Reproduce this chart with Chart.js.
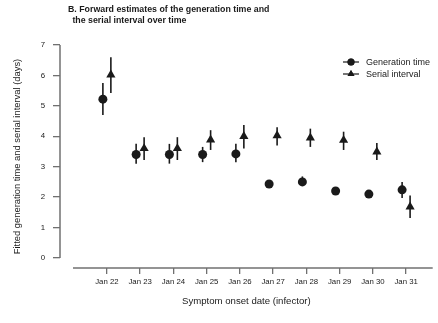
<!DOCTYPE html>
<html>
<head>
<meta charset="utf-8">
<script src="https://cdn.jsdelivr.net/npm/chart.js@4.4.1/dist/chart.umd.min.js"></script>
<style>
  html, body { margin: 0; padding: 0; background: #fff; }
  #wrap { width: 438px; height: 323px; position: relative; }
</style>
</head>
<body>
<div id="wrap"><canvas id="chart" width="438" height="323"></canvas></div>
<script>
// dados
const dates = ['Jan 22', 'Jan 23', 'Jan 24', 'Jan 25', 'Jan 26', 'Jan 27', 'Jan 28', 'Jan 29', 'Jan 30', 'Jan 31'];
const genTime = [5.22, 3.4, 3.4, 3.4, 3.42, 2.43, 2.5, 2.2, 2.1, 2.24];
const genLow  = [4.7, 3.1, 3.1, 3.15, 3.15, 2.35, 2.38, 2.13, 2.03, 1.97];
const genHigh = [5.75, 3.75, 3.75, 3.65, 3.75, 2.52, 2.68, 2.3, 2.18, 2.5];
const serial = [6.02, 3.6, 3.6, 3.88, 4.0, 4.02, 3.95, 3.87, 3.49, 1.68];
const serialLow  = [5.42, 3.22, 3.22, 3.55, 3.6, 3.7, 3.65, 3.55, 3.22, 1.31];
const serialHigh = [6.6, 3.97, 3.97, 4.2, 4.37, 4.3, 4.25, 4.15, 3.78, 2.05];
const yTicks = [0, 1, 2, 3, 4, 5, 6, 7];

const titleLines = ['B. Forward estimates of the generation time and', ' the serial interval over time'];
const ink = '#1a1a1a';
const axisGray = '#707070';
const fontFam = '"Liberation Sans", Arial, sans-serif';

// desenha titulo, eixos, barras de erro e legenda
const extras = {
    id: 'extras',
    beforeDatasetsDraw(chart) {
        const ctx = chart.ctx;
        const x = chart.scales.x;
        const y = chart.scales.y;
        ctx.save();
        ctx.strokeStyle = ink;
        ctx.lineWidth = 1.6;
        chart.data.datasets.forEach((ds, di) => {
            const lo = di === 0 ? genLow : serialLow;
            const hi = di === 0 ? genHigh : serialHigh;
            ds.data.forEach((p, i) => {
                const px = x.getPixelForValue(p.x);
                ctx.beginPath();
                ctx.moveTo(px, y.getPixelForValue(lo[i]));
                ctx.lineTo(px, y.getPixelForValue(hi[i]));
                ctx.stroke();
            });
        });
        ctx.restore();
    },
    afterDraw(chart) {
        const ctx = chart.ctx;
        const x = chart.scales.x;
        const y = chart.scales.y;
        ctx.save();
        // eixos no estilo R
        ctx.strokeStyle = axisGray;
        ctx.lineWidth = 1.5;
        ctx.beginPath();
        ctx.moveTo(y.right, y.getPixelForValue(yTicks[0]));
        ctx.lineTo(y.right, y.getPixelForValue(yTicks[yTicks.length - 1]));
        ctx.stroke();
        ctx.beginPath();
        ctx.moveTo(x.getPixelForValue(-1.02), x.top);
        ctx.lineTo(chart.chartArea.right, x.top);
        ctx.stroke();

        // titulo
        ctx.fillStyle = ink;
        ctx.font = 'bold 8.8px ' + fontFam;
        ctx.textBaseline = 'middle';
        ctx.textAlign = 'left';
        ctx.fillText(titleLines[0], 68, 10);
        ctx.fillText(titleLines[1], 70, 21);

        // legenda
        const items = [
            { label: 'Generation time', style: 'circle', r: 3.5 },
            { label: 'Serial interval', style: 'triangle', r: 4 }
        ];
        ctx.font = '9px ' + fontFam;
        items.forEach((it, i) => {
            const ly = 62 + i * 12;
            ctx.strokeStyle = ink;
            ctx.lineWidth = 1.2;
            ctx.beginPath();
            ctx.moveTo(343, ly);
            ctx.lineTo(359, ly);
            ctx.stroke();
            ctx.fillStyle = ink;
            Chart.helpers.drawPoint(ctx, { pointStyle: it.style, radius: it.r, borderWidth: 0 }, 351, ly);
            ctx.fill();
            ctx.fillText(it.label, 366, ly + 0.5);
        });
        ctx.restore();
    }
};

const genData = genTime.map((v, i) => ({ x: i - 0.12, y: v }));
const serialData = serial.map((v, i) => ({ x: i + 0.12, y: v }));

new Chart(document.getElementById('chart'), {
    type: 'scatter',
    data: {
        datasets: [
            {
                label: 'Generation time',
                data: genData,
                pointStyle: 'circle',
                pointRadius: 4.5,
                pointBackgroundColor: ink,
                pointBorderColor: ink,
                pointBorderWidth: 0
            },
            {
                label: 'Serial interval',
                data: serialData,
                pointStyle: 'triangle',
                pointRadius: 5.3,
                pointBackgroundColor: ink,
                pointBorderColor: ink,
                pointBorderWidth: 0
            }
        ]
    },
    options: {
        responsive: false,
        animation: false,
        devicePixelRatio: 1,
        layout: { padding: { top: 45, right: 5, bottom: 0, left: 0 } },
        plugins: {
            legend: { display: false },
            title: { display: false },
            tooltip: { enabled: false }
        },
        scales: {
            x: {
                type: 'linear',
                min: -1.41,
                max: 9.8,
                afterFit: (scale) => { scale.height = 55; },
                afterBuildTicks: (scale) => {
                    scale.ticks = dates.map((d, i) => ({ value: i }));
                },
                ticks: {
                    autoSkip: false,
                    maxRotation: 0,
                    padding: 3,
                    color: ink,
                    font: { family: fontFam, size: 7.8 },
                    callback: (v) => dates[v]
                },
                grid: {
                    drawOnChartArea: false,
                    drawTicks: true,
                    tickLength: 6,
                    color: axisGray,
                    lineWidth: 1.3
                },
                border: { display: false },
                title: {
                    display: true,
                    text: 'Symptom onset date (infector)',
                    color: ink,
                    font: { family: fontFam, size: 9.6 },
                    padding: { top: 0, bottom: 16 }
                }
            },
            y: {
                min: -0.33,
                max: 7,
                afterFit: (scale) => { scale.width = 60; },
                afterBuildTicks: (scale) => {
                    scale.ticks = yTicks.map(v => ({ value: v }));
                },
                ticks: {
                    padding: 8,
                    color: ink,
                    font: { family: fontFam, size: 7.8 }
                },
                grid: {
                    drawOnChartArea: false,
                    drawTicks: true,
                    tickLength: 7,
                    color: axisGray,
                    lineWidth: 1.3
                },
                border: { display: false },
                title: {
                    display: true,
                    text: 'Fitted generation time and serial interval (days)',
                    color: ink,
                    font: { family: fontFam, size: 9.4 },
                    padding: { top: 12, bottom: 0 }
                }
            }
        }
    },
    plugins: [extras]
});
</script>
</body>
</html>
